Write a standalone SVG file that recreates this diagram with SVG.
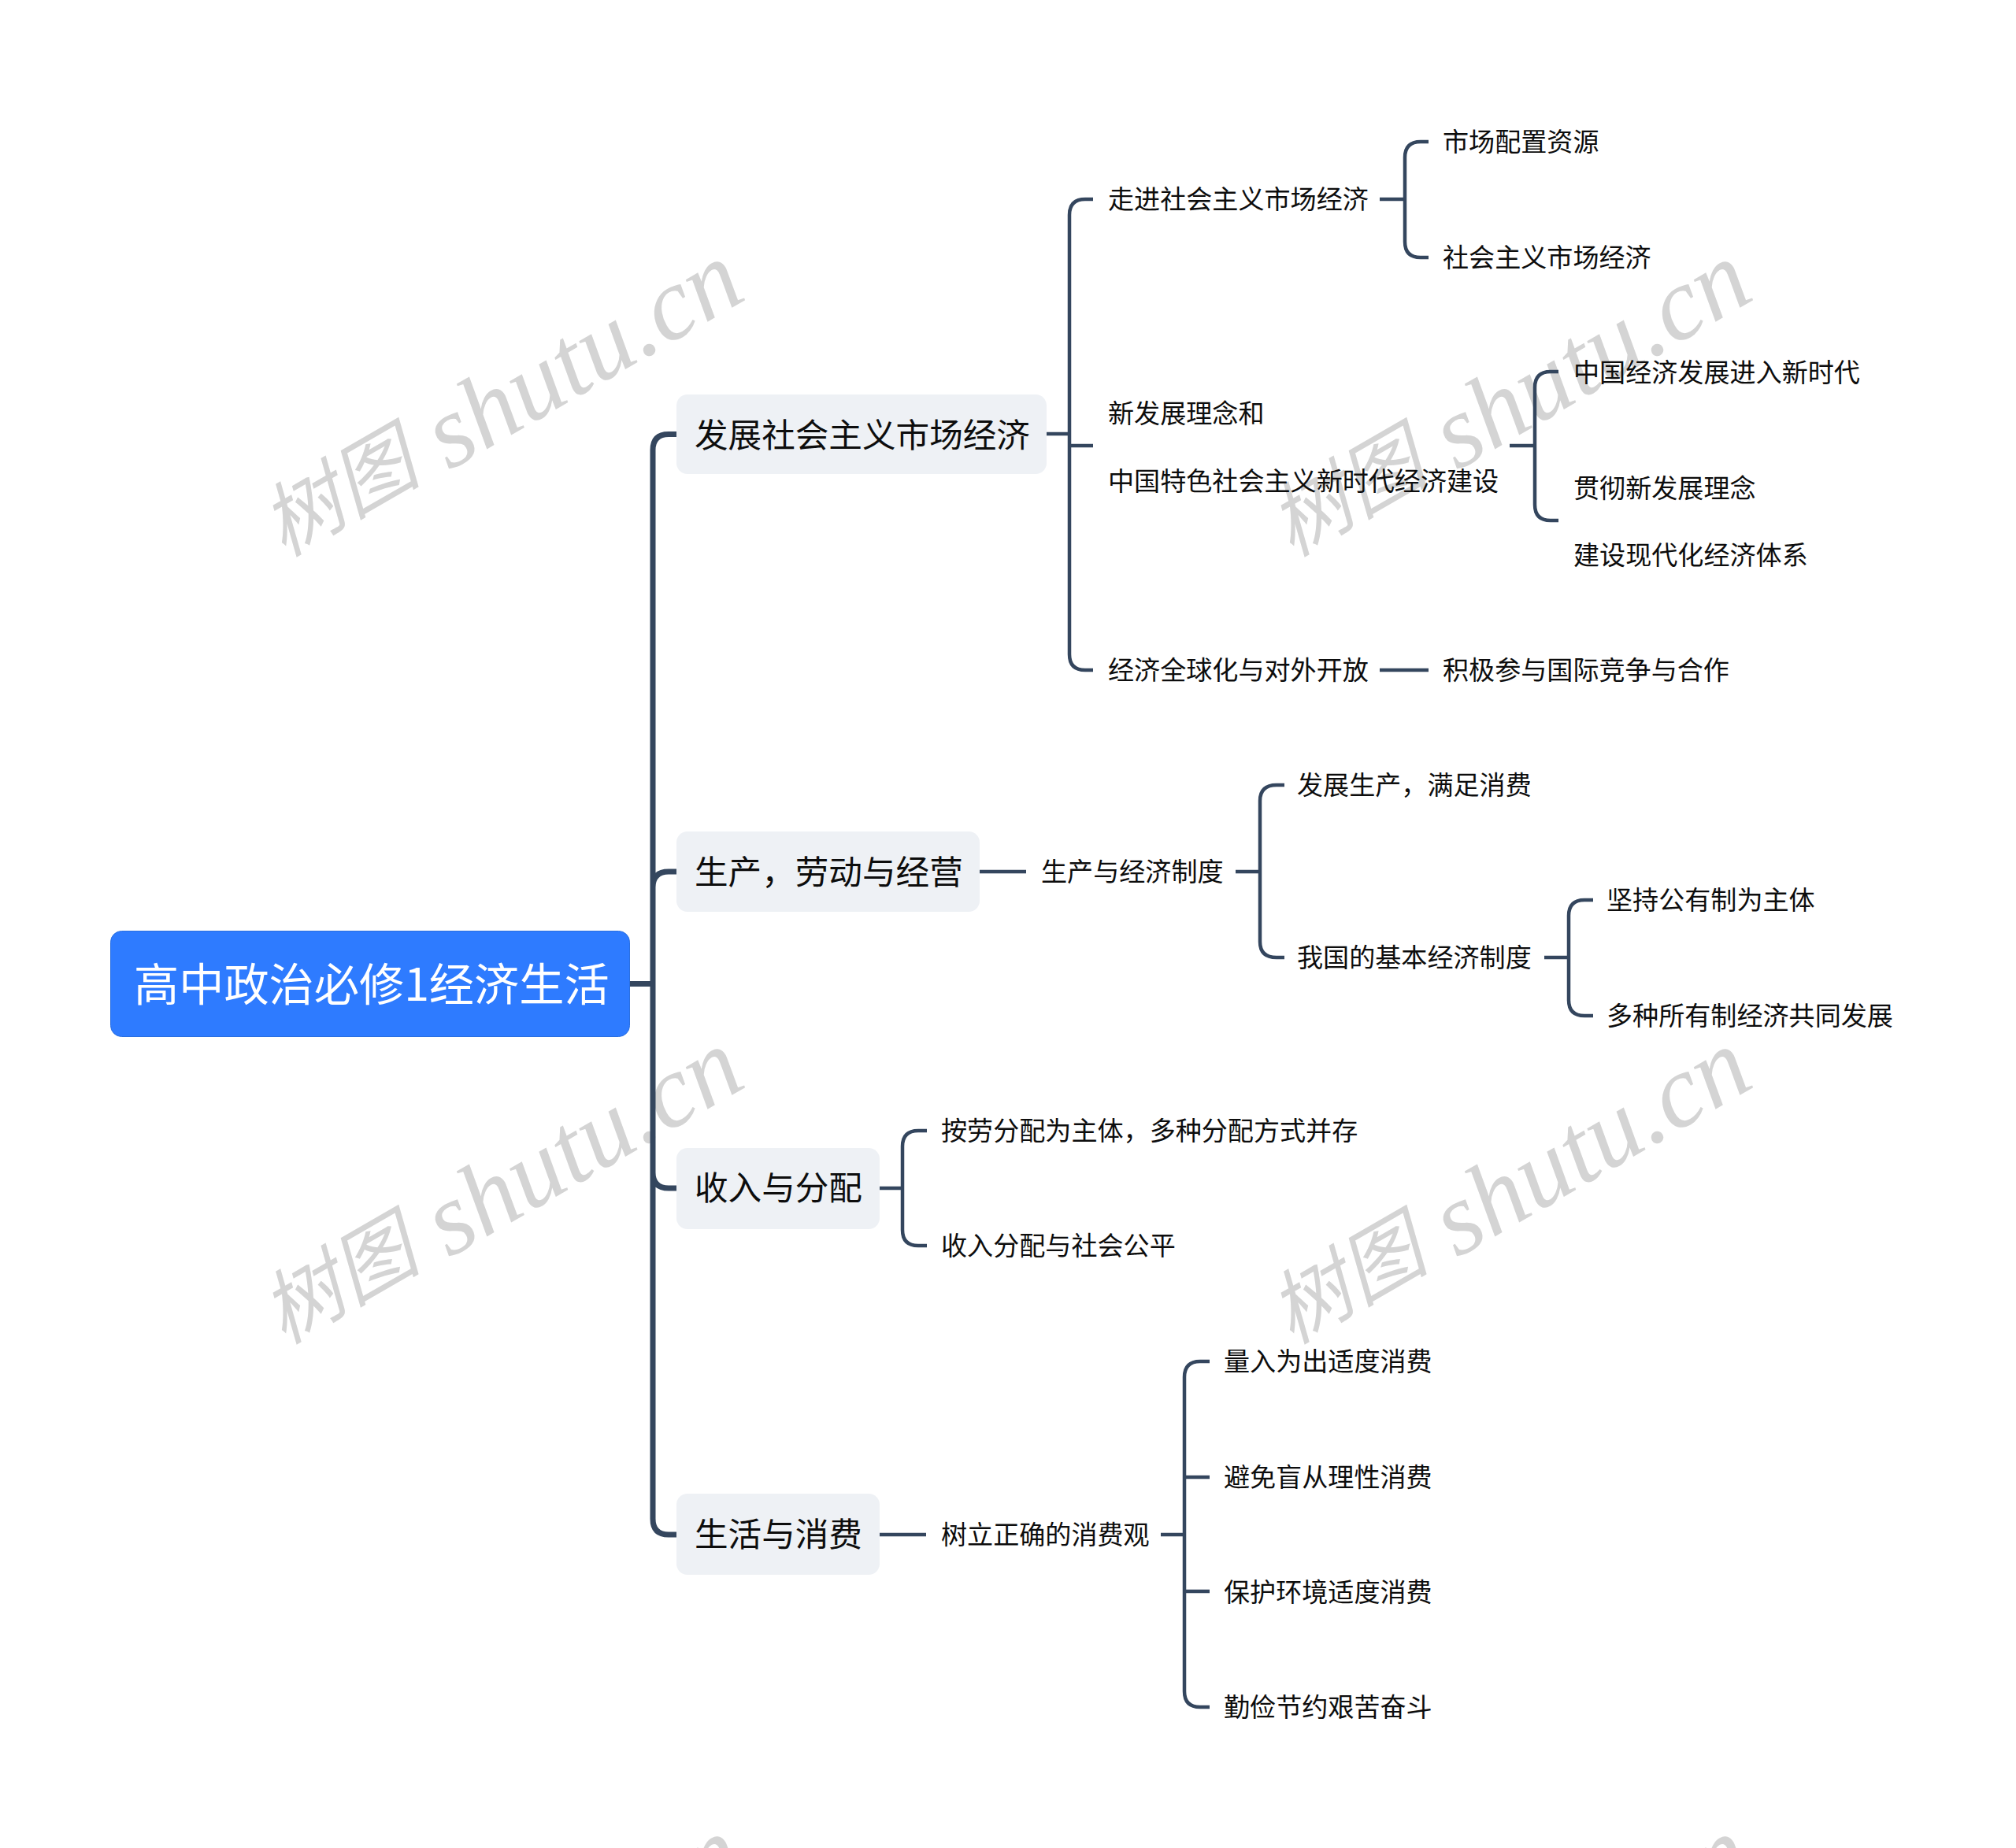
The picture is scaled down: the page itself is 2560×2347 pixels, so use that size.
<svg xmlns="http://www.w3.org/2000/svg" width="2560" height="2347" viewBox="0 0 2560 2347">
<style>
text{font-family:"Noto Sans CJK SC","Noto Sans",sans-serif;dominant-baseline:central;fill:#0d0d0d}
.wm{font-family:"Liberation Serif","Noto Sans CJK SC",serif;font-style:italic;fill:#d4d4d4;dominant-baseline:auto}
.root{font-size:57.2px;fill:#fff}
.b{font-size:42.6px}
.l{font-size:33.1px}
.c1,.c2{fill:none;stroke:#34465e;stroke-linecap:butt}
.c1{stroke-width:7}
.c2{stroke-width:4.5}
</style>
<defs><text id="mark" class="wm" transform="translate(360 708) rotate(-30)"><tspan font-size="102">树图</tspan><tspan font-size="131" dy="10"> shutu.cn</tspan></text></defs>
<rect width="2560" height="2347" fill="#fff"/>
<g id="watermark">
<use href="#mark"/><use href="#mark" x="1280"/>
<use href="#mark" y="1000"/><use href="#mark" x="1280" y="1000"/>
<use href="#mark" y="2000"/><use href="#mark" x="1280" y="2000"/>
</g>
<g id="connectors">
<path class="c1" d="M799 1249.5H829M859 551.500H849Q829 551.500 829 571.500V1929Q829 1949 849 1949H859M859 1107H849Q829 1107 829 1127M829 1489Q829 1509 849 1509H859"/>
<path class="c2" d="M1329 551H1357M1388 253H1378Q1358 253 1358 273V831Q1358 851 1378 851H1388M1358 566H1388"/>
<path class="c2" d="M1752 253H1783M1814 180H1804Q1784 180 1784 200V307Q1784 327 1804 327H1814"/>
<path class="c2" d="M1917 566H1949M1979 472H1969Q1949 472 1949 492V641Q1949 661 1969 661H1979"/>
<path class="c2" d="M1752 851H1814"/>
<path class="c2" d="M1244 1107H1303M1569 1107H1600M1631 997H1621Q1600 997 1600 1017V1196Q1600 1216 1621 1216H1631"/>
<path class="c2" d="M1961 1216H1992M2023 1143H2012Q1992 1143 1992 1163V1270Q1992 1290 2012 1290H2023"/>
<path class="c2" d="M1117 1509H1146M1177 1436H1166Q1146 1436 1146 1456V1562Q1146 1582 1166 1582H1177"/>
<path class="c2" d="M1117 1949H1176M1474 1949H1504M1536 1729H1524Q1504 1729 1504 1749V2148Q1504 2168 1524 2168H1536M1504 1876H1536M1504 2021H1536"/>
</g>
<g id="n0"><rect x="140.500" y="1182.500" width="659" height="134" rx="14" fill="#2e7bff" stroke="#2a6fe0"/><text class="root" x="170" y="1246">高中政治必修1经济生活</text></g>
<g id="n1"><rect x="859" y="501" width="470" height="101" rx="14" fill="#eef1f5"/><text class="b" x="882" y="549">发展社会主义市场经济</text></g>
<g id="n2"><rect x="859" y="1056" width="385" height="102" rx="14" fill="#eef1f5"/><text class="b" x="882" y="1104">生产，劳动与经营</text></g>
<g id="n3"><rect x="859" y="1458" width="258" height="103" rx="14" fill="#eef1f5"/><text class="b" x="882" y="1505">收入与分配</text></g>
<g id="n4"><rect x="859" y="1897" width="258" height="103" rx="14" fill="#eef1f5"/><text class="b" x="882" y="1945">生活与消费</text></g>
<g id="n11"><text class="l" x="1407" y="251">走进社会主义市场经济</text></g>
<g id="n111"><text class="l" x="1832" y="178">市场配置资源</text></g>
<g id="n112"><text class="l" x="1832" y="325">社会主义市场经济</text></g>
<g id="n12"><text class="l" x="1407" y="523">新发展理念和</text><text class="l" x="1407" y="609">中国特色社会主义新时代经济建设</text></g>
<g id="n121"><text class="l" x="1998" y="471">中国经济发展进入新时代</text></g>
<g id="n122"><text class="l" x="1998" y="618">贯彻新发展理念</text><text class="l" x="1998" y="703">建设现代化经济体系</text></g>
<g id="n13"><text class="l" x="1407" y="849">经济全球化与对外开放</text></g>
<g id="n131"><text class="l" x="1832" y="849">积极参与国际竞争与合作</text></g>
<g id="n21"><text class="l" x="1322" y="1105">生产与经济制度</text></g>
<g id="n211"><text class="l" x="1647" y="995">发展生产，满足消费</text></g>
<g id="n212"><text class="l" x="1647" y="1214">我国的基本经济制度</text></g>
<g id="n2121"><text class="l" x="2040" y="1141">坚持公有制为主体</text></g>
<g id="n2122"><text class="l" x="2040" y="1288">多种所有制经济共同发展</text></g>
<g id="n31"><text class="l" x="1195" y="1434">按劳分配为主体，多种分配方式并存</text></g>
<g id="n32"><text class="l" x="1195" y="1580">收入分配与社会公平</text></g>
<g id="n41"><text class="l" x="1195" y="1947">树立正确的消费观</text></g>
<g id="n411"><text class="l" x="1554" y="1727">量入为出适度消费</text></g>
<g id="n412"><text class="l" x="1554" y="1874">避免盲从理性消费</text></g>
<g id="n413"><text class="l" x="1554" y="2020">保护环境适度消费</text></g>
<g id="n414"><text class="l" x="1554" y="2166">勤俭节约艰苦奋斗</text></g>
</svg>
